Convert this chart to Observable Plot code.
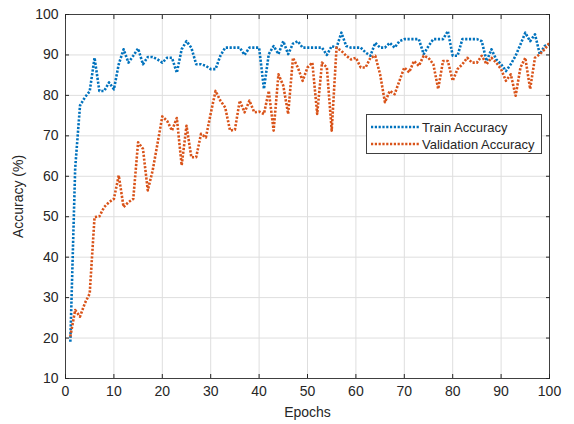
<!DOCTYPE html>
<html>
<head>
<meta charset="utf-8">
<script src="https://cdn.jsdelivr.net/npm/d3@7"></script>
<script src="https://cdn.jsdelivr.net/npm/@observablehq/plot@0.6"></script>
<style>
  html, body { margin: 0; padding: 0; background: #fff; }
  #wrap { position: relative; width: 574px; height: 424px; font-family: "Liberation Sans", Arial, sans-serif; }
  #legend { position: absolute; left: 366px; top: 114px; width: 176px; height: 40px; background: #fff; border: 1px solid #404040; box-sizing: border-box; font-size: 13px; color: #262626; }
  .lrow { position: absolute; left: 3px; height: 16px; display: flex; align-items: center; }
  .lrow span { margin-left: 2px; }
</style>
</head>
<body>
<div id="wrap"></div>
<script>
const seriesNames = ["Train Accuracy", "Validation Accuracy"];
const seriesColors = ["#0072BD", "#D95319"];
const xTicks = [0, 10, 20, 30, 40, 50, 60, 70, 80, 90, 100];
const yTicks = [10, 20, 30, 40, 50, 60, 70, 80, 90, 100];
const epochs = d3.range(1, 101);
const trainAcc = [
  19.1, 62, 77.5, 79.5, 81, 89.3, 81.1, 81.1, 83.2, 81.5,
  87.7, 91.4, 88.1, 89.8, 91.6, 87.7, 89.5, 89.5, 88.9, 88.1,
  89.3, 89.3, 85.6, 91.4, 93.4, 91.8, 87.7, 87.7, 87.3, 86.5,
  86.5, 89.8, 91.8, 91.8, 91.8, 91.8, 90, 91.8, 91.8, 91.8,
  81.6, 90.2, 92.2, 90.2, 93.4, 90.2, 92.8, 93.4, 91.8, 91.8,
  91.8, 91.8, 91.8, 90, 92.2, 91.8, 95.5, 92.2, 91.8, 91.8,
  91.8, 90.6, 89.8, 93, 91.8, 91.8, 93, 91.8, 93.4, 93.9,
  93.9, 93.9, 93.9, 90.2, 92.2, 93.9, 93.9, 93.9, 95.9, 89.8,
  89.8, 93.9, 93.9, 93.9, 93.9, 93.4, 88.5, 91.4, 88.9, 87.7,
  86, 87.7, 89.8, 92.6, 95.5, 93.4, 95.1, 90.2, 92.2, 92.6
];
const valAcc = [
  20.4, 26.9, 25.3, 28.6, 31, 49.9, 50.1, 52.4, 53.6, 54.4,
  60.2, 52.4, 53.6, 54.4, 68.4, 66.8, 56.5, 61.4, 68, 74.8,
  73.7, 71.3, 74.4, 62.7, 72.5, 64.7, 64.7, 70.5, 69.6, 75.5,
  81.1, 78.7, 77, 71.3, 71.5, 78.7, 75.8, 78.7, 75.8, 76,
  75.4, 81.1, 71.3, 85.2, 82.4, 75.4, 89.3, 86.9, 83.6, 86.9,
  88.1, 75.4, 88.1, 86.9, 71.3, 91.8, 91, 89.8, 88.9, 89.3,
  86.9, 86.9, 89.3, 89.8, 85.2, 78.3, 81.1, 80.3, 83.6, 86.9,
  85.7, 88.5, 87.3, 89.8, 89.3, 87.7, 81.6, 88.5, 88.5, 83.6,
  86.5, 87.7, 89.3, 88.1, 88.1, 89.8, 87.7, 89.3, 88.1, 86.5,
  83.6, 85.2, 79.9, 86.9, 89.3, 81.6, 89.3, 90.2, 91.4, 93
];

const data = [];
epochs.forEach((e, i) => {
  data.push({epoch: e, acc: trainAcc[i], series: seriesNames[0]});
  data.push({epoch: e, acc: valAcc[i], series: seriesNames[1]});
});

const ink = "#262626";
const chart = Plot.plot({
  width: 574,
  height: 424,
  marginLeft: 65,
  marginRight: 25,
  marginTop: 14,
  marginBottom: 46,
  style: {fontFamily: "'Liberation Sans', Arial, sans-serif", fontSize: "14px", color: ink, background: "#fff"},
  x: {domain: [0, 100]},
  y: {domain: [10, 100]},
  color: {domain: seriesNames, range: seriesColors},
  marks: [
    Plot.gridX(xTicks, {stroke: "#dedede", strokeOpacity: 1}),
    Plot.gridY(yTicks, {stroke: "#dedede", strokeOpacity: 1}),
    Plot.line(data, {x: "epoch", y: "acc", z: "series", stroke: "series", strokeWidth: 2.6, strokeDasharray: "2.2,1.6", strokeLinecap: "butt", strokeLinejoin: "round"}),
    Plot.frame({stroke: "#404040", strokeWidth: 1}),
    Plot.axisX(xTicks, {anchor: "bottom", tickSize: -4, tickPadding: 12, stroke: ink, fill: ink, label: "Epochs", labelAnchor: "center", labelArrow: "none", labelOffset: 38, fontSize: 14}),
    Plot.axisX(xTicks, {anchor: "top", tickSize: -4, stroke: ink, text: null, label: null}),
    Plot.axisY(yTicks, {anchor: "left", tickSize: -4, tickPadding: 11, stroke: ink, fill: ink, label: "Accuracy (%)", labelAnchor: "center", labelArrow: "none", labelOffset: 52, fontSize: 14}),
    Plot.axisY(yTicks, {anchor: "right", tickSize: -4, stroke: ink, text: null, label: null})
  ]
});
const wrap = document.getElementById("wrap");
wrap.appendChild(chart);

const legend = document.createElement("div");
legend.id = "legend";
seriesNames.forEach((name, i) => {
  const row = document.createElement("div");
  row.className = "lrow";
  row.style.top = (4 + i * 17) + "px";
  row.innerHTML = `<svg width="50" height="6"><line x1="1" y1="3" x2="49" y2="3" stroke="${seriesColors[i]}" stroke-width="2.6" stroke-dasharray="2.2,1.6"/></svg><span>${name}</span>`;
  legend.appendChild(row);
});
wrap.appendChild(legend);
</script>
</body>
</html>
